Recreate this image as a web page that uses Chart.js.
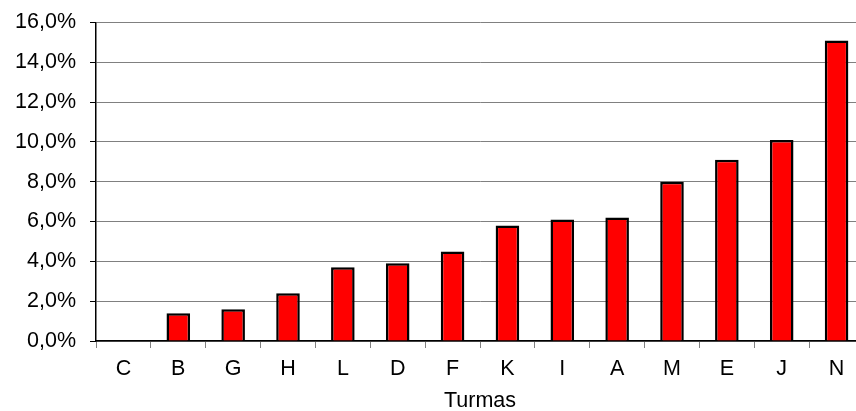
<!DOCTYPE html>
<html>
<head>
<meta charset="utf-8">
<script src="https://cdn.jsdelivr.net/npm/chart.js@4/dist/chart.umd.min.js"></script>
<style>
  html, body { margin: 0; padding: 0; background: #fff; overflow: hidden; }
  .wrap { width: 864px; height: 411px; }
</style>
</head>
<body>
<div class="wrap"><canvas id="chart"></canvas></div>
<script>
// Turmas e percentuais
const turmas = ['C', 'B', 'G', 'H', 'L', 'D', 'F', 'K', 'I', 'A', 'M', 'E', 'J', 'N'];
const percentuais = [0, 1.4, 1.6, 2.4, 3.7, 3.9, 4.5, 5.8, 6.1, 6.2, 8.0, 9.1, 10.1, 15.1];

const yMax = 16;
const yStep = 2;

const font = { family: "'Liberation Sans', Arial, sans-serif", size: 21.5 };

new Chart(document.getElementById('chart').getContext('2d'), {
  type: 'bar',
  data: {
    labels: turmas,
    datasets: [{
      data: percentuais,
      backgroundColor: '#ff0000',
      borderColor: '#000000',
      borderWidth: 2.5,
      categoryPercentage: 1,
      barPercentage: 0.43
    }]
  },
  options: {
    responsive: true,
    maintainAspectRatio: false,
    animation: false,
    devicePixelRatio: 1,
    layout: { padding: { top: 22.5, left: 0, right: 0, bottom: 0 } },
    plugins: {
      legend: { display: false },
      tooltip: { enabled: false }
    },
    scales: {
      x: {
        offset: true,
        grid: {
          offset: true,
          drawOnChartArea: false,
          drawTicks: true,
          tickLength: 7,
          tickColor: '#808080'
        },
        border: { color: '#000000', width: 1.5 },
        ticks: { color: '#000', font: font, padding: 8, maxRotation: 0 },
        title: {
          display: true,
          text: 'Turmas',
          color: '#000',
          font: font,
          padding: { top: 6, bottom: -3 }
        },
        afterFit: s => { s.height = 70; s.paddingLeft = 0; s.paddingRight = 0; }
      },
      y: {
        min: 0,
        max: yMax,
        grid: {
          color: '#808080',
          lineWidth: 1,
          tickLength: 6,
          tickColor: '#000000'
        },
        border: { color: '#000000', width: 1.5 },
        ticks: {
          stepSize: yStep,
          color: '#000',
          font: font,
          padding: 14,
          callback: v => v.toFixed(1).replace('.', ',') + '%'
        },
        afterFit: s => { s.width = 96; s.paddingTop = 0; s.paddingBottom = 0; }
      }
    }
  }
});
</script>
</body>
</html>
